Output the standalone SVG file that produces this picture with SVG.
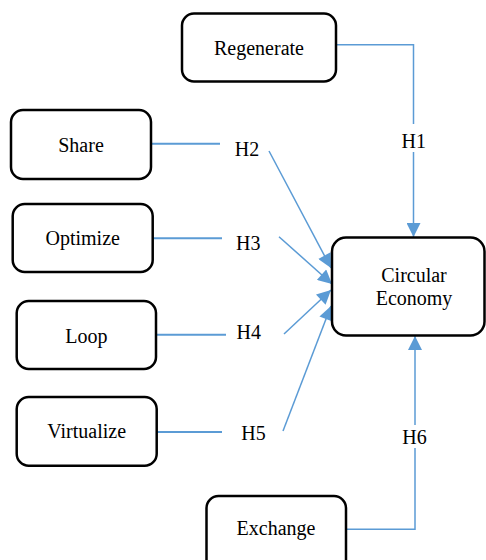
<svg xmlns="http://www.w3.org/2000/svg" width="486" height="560" viewBox="0 0 486 560">
<style>
.box{fill:#fff;stroke:#000;stroke-width:2.5}
.t{font-family:'Liberation Serif','Times New Roman',serif;font-size:20px;fill:#000;text-anchor:middle}
.c{fill:none;stroke:#5B9BD5;stroke-width:1.5}
.h{fill:none;stroke:#5B9BD5;stroke-width:2}
</style>
<defs>
<marker id="arr" viewBox="0 0 10 10" refX="10" refY="5" markerWidth="15" markerHeight="14" markerUnits="userSpaceOnUse" orient="auto">
<path d="M0,0 L10,5 L0,10 z" fill="#5B9BD5"/>
</marker>
</defs>
<rect width="486" height="560" fill="#fff"/>
<g id="connectors">
<polyline class="c" points="336,44.7 413.5,44.7 413.5,124"/>
<line class="c" x1="413.5" y1="152" x2="413.5" y2="237" marker-end="url(#arr)"/>
<line class="h" x1="151" y1="143.7" x2="220" y2="143.7"/>
<line class="c" x1="269" y1="151" x2="331" y2="268" marker-end="url(#arr)"/>
<line class="h" x1="153" y1="238.3" x2="222" y2="238.3"/>
<line class="c" x1="279" y1="236.7" x2="332" y2="284" marker-end="url(#arr)"/>
<line class="h" x1="156" y1="334.7" x2="226" y2="334.7"/>
<line class="c" x1="284" y1="334" x2="331" y2="290" marker-end="url(#arr)"/>
<line class="h" x1="157" y1="432" x2="222" y2="432"/>
<line class="c" x1="283" y1="431" x2="331" y2="306" marker-end="url(#arr)"/>
<polyline class="c" points="346,529.3 415,529.3 415,448"/>
<line class="c" x1="415" y1="425" x2="415" y2="336" marker-end="url(#arr)"/>
<text class="t" x="413.7" y="148.3">H1</text>
<text class="t" x="247" y="156">H2</text>
<text class="t" x="248.3" y="249.5">H3</text>
<text class="t" x="248.8" y="339">H4</text>
<text class="t" x="253.5" y="440">H5</text>
<text class="t" x="414.5" y="444">H6</text>
</g>
<g id="regenerate">
<rect class="box" x="182" y="13.5" width="154" height="68" rx="12"/>
<text class="t" x="259" y="55">Regenerate</text>
</g>
<g id="share">
<rect class="box" x="11" y="110" width="140" height="69" rx="12"/>
<text class="t" x="81" y="151.7">Share</text>
</g>
<g id="optimize">
<rect class="box" x="12.7" y="204" width="140" height="68" rx="12"/>
<text class="t" x="82.7" y="245">Optimize</text>
</g>
<g id="loop">
<rect class="box" x="16.7" y="301" width="139.3" height="68" rx="12"/>
<text class="t" x="86.3" y="343.3">Loop</text>
</g>
<g id="virtualize">
<rect class="box" x="16.7" y="397" width="140" height="68.7" rx="12"/>
<text class="t" x="86.7" y="438.3">Virtualize</text>
</g>
<g id="circular-economy">
<rect class="box" x="332" y="237.5" width="152.5" height="98" rx="14"/>
<text class="t" x="414" y="282">Circular</text>
<text class="t" x="414" y="305">Economy</text>
</g>
<g id="exchange">
<rect class="box" x="206.5" y="496" width="139.5" height="80" rx="12"/>
<text class="t" x="276" y="535">Exchange</text>
</g>
</svg>
